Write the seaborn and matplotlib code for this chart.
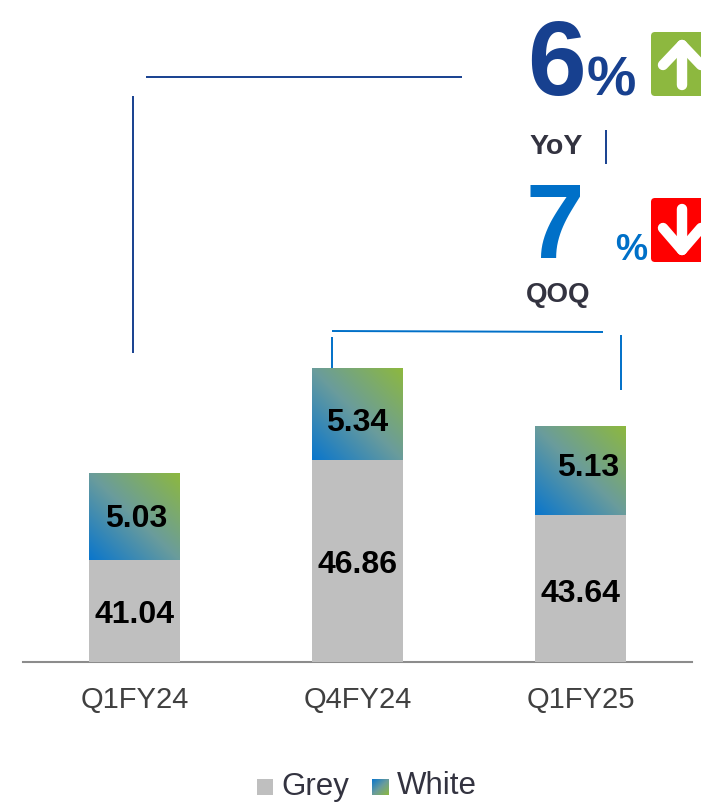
import numpy as np
import pandas as pd
import seaborn as sns
import matplotlib.pyplot as plt
from matplotlib.colors import LinearSegmentedColormap
from matplotlib.patches import FancyBboxPatch, Rectangle

quarters = ['Q1FY24', 'Q4FY24', 'Q1FY25']
grey_vals = [41.04, 46.86, 43.64]
white_vals = [5.03, 5.34, 5.13]

sns.set_style('white')
plt.rcParams['font.family'] = ['Liberation Sans', 'DejaVu Sans']

W, H = 701, 802
GREY = '#BFBFBF'
DARK = '#17408F'
BLUE = '#0070C8'
GREEN = '#8DB83F'
INK = '#333340'

df = pd.DataFrame({'quarter': quarters, 'grey': grey_vals, 'white': white_vals})
df['total'] = df['grey'] + df['white']

grad_cmap = LinearSegmentedColormap.from_list('gw', [(0, '#0A76CC'), (0.5, '#6A9C9C'), (1, GREEN)])
gx, gy = np.meshgrid(np.linspace(0, 1, 100), np.linspace(0, 1, 100))
grad = (gx + gy) / 2

fig = plt.figure(figsize=(W / 100, H / 100), dpi=100, facecolor='white')
ax = fig.add_axes([23 / W, (H - 662) / H, 669 / W, 662 / H])

# bars, axis does not start at zero
y_min = 35.1
y_max = y_min + 662 / 17.18
sns.barplot(data=df, x='quarter', y='total', color='white', width=0.404, saturation=1, linewidth=0, ax=ax)
tops = list(ax.patches)
for bar, g in zip(tops, df['grey']):
    x0 = bar.get_x()
    ax.imshow(grad, extent=(x0, x0 + bar.get_width(), g, bar.get_height()), origin='lower',
              cmap=grad_cmap, vmin=0, vmax=1, aspect='auto', zorder=2)
sns.barplot(data=df, x='quarter', y='grey', color=GREY, width=0.404, saturation=1, linewidth=0, ax=ax, zorder=3)
ax.set_xlim(-0.5, 2.5)
ax.set_ylim(y_min, y_max)

sns.despine(ax=ax, left=True)
ax.spines['bottom'].set_color('#8C8C8C')
ax.spines['bottom'].set_linewidth(1.5)
ax.set_xlabel('')
ax.set_ylabel('')
ax.set_yticks([])
ax.tick_params(axis='x', length=0, pad=17, labelsize=21, labelcolor='#404040')

# labels sit mid segment, some were nudged by hand in the original
grey_nudge = [(0, -4), (0, -4), (0, -5)]
white_nudge = [(2, -2), (0, -9), (8, 3)]
for i in range(len(quarters)):
    g, w = grey_vals[i], white_vals[i]
    ax.annotate(f'{g:.2f}', (i, y_min + (g - y_min) / 2), xytext=grey_nudge[i], textcoords='offset pixels',
                ha='center', va='center', fontsize=23, fontweight='bold', color='black', zorder=5)
    ax.annotate(f'{w:.2f}', (i, g + w / 2), xytext=white_nudge[i], textcoords='offset pixels',
                ha='center', va='center', fontsize=23, fontweight='bold', color='black', zorder=5)

# overlay in pixel coords for the callouts
ov = fig.add_axes([0, 0, 1, 1], facecolor='none', zorder=10)
ov.set_xlim(0, W)
ov.set_ylim(H, 0)
ov.axis('off')

for xs, ys, c in [((146, 462), (77, 77), DARK), ((133, 133), (96, 353), DARK),
                  ((605.5, 605.5), (130, 164), DARK), ((332, 603), (331, 332), BLUE),
                  ((332, 332), (337, 368), BLUE), ((621, 621), (335, 390), BLUE)]:
    ov.plot(xs, ys, color=c, lw=1.4, solid_capstyle='butt')

ov.text(527, 95, '6', fontsize=76, fontweight='bold', color=DARK, ha='left', va='baseline')
ov.text(587, 95, '%', fontsize=40, fontweight='bold', color=DARK, ha='left', va='baseline')
ov.text(529, 154, 'YoY', fontsize=20.5, fontweight='bold', color=INK, ha='left', va='baseline')
ov.text(526, 258, '7', fontsize=76, fontweight='bold', color=BLUE, ha='left', va='baseline')
ov.text(615, 260, '%', fontsize=26, fontweight='bold', color=BLUE, ha='left', va='baseline')
ov.text(526, 302, 'QOQ', fontsize=20, fontweight='bold', color=INK, ha='left', va='baseline')

# arrow tiles, cut by the right edge like the source
for top, col, shaft, head in [
    (32, GREEN, ((682, 682), (85, 45)), ((663, 701), (65, 65), (682, 682), (45, 45))),
    (198, 'red', ((682, 682), (209, 250)), ((663, 701), (228, 228), (682, 682), (250, 250))),
]:
    ov.add_patch(FancyBboxPatch((653, top + 2), 70, 60, boxstyle='round,pad=2,rounding_size=4',
                                fc=col, ec='none'))
    ov.plot(shaft[0], shaft[1], color='white', lw=7.5, solid_capstyle='round')
    ov.plot([head[0][0], head[2][0], head[0][1]], [head[1][0], head[3][0], head[1][1]], color='white',
            lw=7.5, solid_capstyle='round', solid_joinstyle='round')

# legend
ov.add_patch(Rectangle((257, 779), 16, 16, fc=GREY, ec='none'))
ov.text(281, 794.5, 'Grey', fontsize=22.5, color=INK, ha='left', va='baseline')
ov.imshow(grad, extent=(372, 389, 795, 779), origin='upper', cmap=grad_cmap, vmin=0, vmax=1, aspect='auto')
ov.set_xlim(0, W)
ov.set_ylim(H, 0)
ov.text(397, 794.5, 'White', fontsize=22.5, color=INK, ha='left', va='baseline')

fig.savefig('out.png', dpi=100)
